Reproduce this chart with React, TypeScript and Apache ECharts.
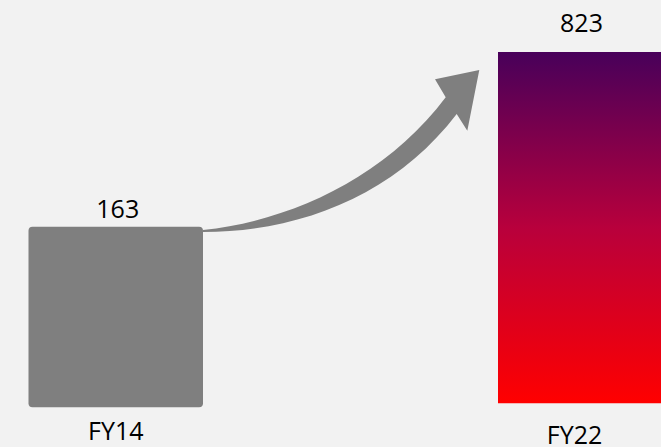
import React, { useEffect, useRef } from "react";
import * as echarts from "echarts";

const categories = ["FY14", "FY22"];
const values = [163, 823];

const ARROW_D =
  "M 203 230 C 290 221 385 178 445.7 97.3 L 435 79.3 L 479.3 70 L 467.3 130.7 L 456.7 114 C 395 195 300 232 203 232 Z";

echarts.graphic.registerShape("growthArrow", (echarts.graphic as any).extendPath(ARROW_D, {}));

export default function App() {
  const ref = useRef<HTMLDivElement>(null);
  useEffect(() => {
    if (!ref.current) return;
    const chart = echarts.init(ref.current, null, { renderer: "svg" });
    const font = "'Open Sans', sans-serif";
    chart.setOption({
      animation: false,
      backgroundColor: "#f2f2f2",
      grid: [
        { left: 28.5, width: 174.5, top: 226.7, bottom: 39.7 },
        { left: 498, width: 192, top: 52, bottom: 43.7 },
      ],
      xAxis: [
        {
          type: "category",
          gridIndex: 0,
          data: [categories[0]],
          axisLine: { show: false },
          axisTick: { show: false },
          axisLabel: { margin: 10, fontSize: 25, color: "#000", fontFamily: font },
        },
        {
          type: "category",
          gridIndex: 1,
          data: [categories[1]],
          axisLine: { show: false },
          axisTick: { show: false },
          axisLabel: { margin: 18, fontSize: 25, color: "#000", fontFamily: font, padding: [0, 10, 0, 0] },
        },
      ],
      yAxis: [
        { type: "value", gridIndex: 0, min: 0, max: values[0], show: false },
        { type: "value", gridIndex: 1, min: 0, max: values[1], show: false },
      ],
      graphic: [
        {
          type: "growthArrow",
          x: 0,
          y: 0,
          z: 10,
          style: { fill: "#7f7f7f" },
        },
      ],
      series: [
        {
          type: "bar",
          xAxisIndex: 0,
          yAxisIndex: 0,
          data: [values[0]],
          barWidth: "100%",
          itemStyle: { color: "#7f7f7f", borderRadius: 4 },
          label: {
            show: true,
            position: "top",
            distance: 6,
            fontSize: 25,
            color: "#000",
            fontFamily: font,
            offset: [2, 0],
          },
        },
        {
          type: "bar",
          xAxisIndex: 1,
          yAxisIndex: 1,
          data: [values[1]],
          barWidth: "100%",
          itemStyle: {
            color: new echarts.graphic.LinearGradient(0, 0, 0, 1, [
              { offset: 0, color: "#48005a" },
              { offset: 0.5, color: "#b8003c" },
              { offset: 1, color: "#ff0000" },
            ]),
          },
          label: {
            show: true,
            position: "top",
            distance: 18,
            fontSize: 25,
            color: "#000",
            fontFamily: font,
            offset: [2, 0],
          },
        },
      ],
    });
    return () => chart.dispose();
  }, []);
  return (
    <div
      ref={ref}
      style={{ position: "fixed", left: 0, top: 0, width: 661, height: 447 }}
    />
  );
}
